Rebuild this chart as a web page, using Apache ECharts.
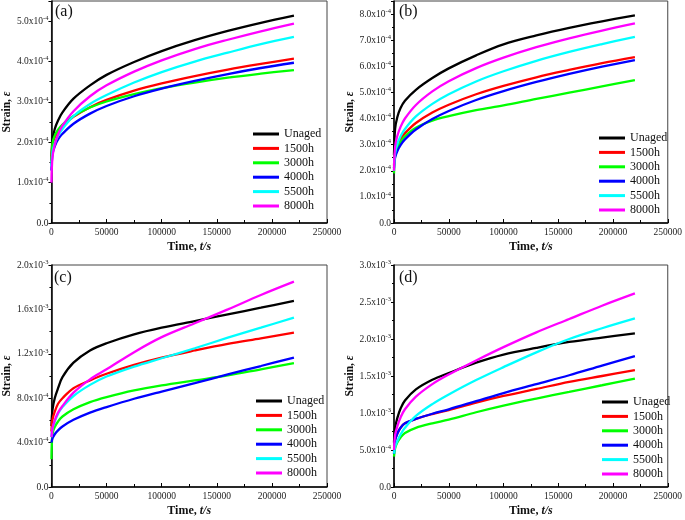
<!DOCTYPE html>
<html><head><meta charset="utf-8">
<script src="https://cdn.jsdelivr.net/npm/echarts@6/dist/echarts.min.js"></script>
<style>html,body{margin:0;padding:0;background:#fff}#c{width:685px;height:520px}</style>
</head><body><div id="c"></div>
<script>
// time points (s)
const T = [0, 1000, 3000, 6000, 10000, 20000, 35000, 50000, 75000, 100000, 130000, 160000, 190000, 220000];
const names = ['Unaged', '1500h', '3000h', '4000h', '5500h', '8000h'];
const colors = ['#000000', '#ff0000', '#00ff00', '#0000ff', '#00ffff', '#ff00ff'];
const xTicks = [0, 50000, 100000, 150000, 200000, 250000];

// strain values in units of 1e-4
// panel (a)
const a_unaged = [1.55, 2.07, 2.33, 2.54, 2.74, 3.08, 3.41, 3.67, 3.99, 4.26, 4.53, 4.76, 4.96, 5.14];
const a_1500   = [1.55, 1.93, 2.11, 2.26, 2.40, 2.63, 2.87, 3.05, 3.28, 3.46, 3.64, 3.80, 3.94, 4.07];
const a_3000   = [1.45, 1.98, 2.17, 2.31, 2.44, 2.65, 2.86, 3.01, 3.19, 3.34, 3.48, 3.60, 3.70, 3.79];
const a_4000   = [1.30, 1.71, 1.90, 2.07, 2.21, 2.46, 2.71, 2.90, 3.14, 3.33, 3.52, 3.69, 3.84, 3.97];
const a_5500   = [1.40, 1.77, 1.97, 2.16, 2.33, 2.65, 2.95, 3.17, 3.48, 3.74, 4.00, 4.22, 4.43, 4.61];
const a_8000   = [1.00, 1.65, 1.94, 2.19, 2.41, 2.77, 3.14, 3.41, 3.75, 4.03, 4.31, 4.54, 4.75, 4.94];
// panel (b)
const b_unaged = [2.6, 3.6, 4.05, 4.4, 4.68, 5.1, 5.55, 5.92, 6.42, 6.84, 7.18, 7.47, 7.72, 7.95];
const b_1500   = [2.2, 2.71, 2.98, 3.22, 3.44, 3.83, 4.23, 4.53, 4.93, 5.25, 5.58, 5.86, 6.12, 6.35];
const b_3000   = [1.9, 2.55, 2.85, 3.1, 3.32, 3.65, 3.92, 4.09, 4.32, 4.5, 4.75, 4.99, 5.23, 5.47];
const b_4000   = [2.1, 2.51, 2.75, 2.98, 3.20, 3.58, 3.98, 4.29, 4.71, 5.05, 5.40, 5.71, 5.99, 6.24];
const b_5500   = [2.0, 2.67, 3.02, 3.32, 3.60, 4.08, 4.56, 4.93, 5.42, 5.81, 6.21, 6.55, 6.85, 7.13];
const b_8000   = [2.0, 2.92, 3.33, 3.68, 4.0, 4.52, 5.04, 5.43, 5.93, 6.33, 6.73, 7.07, 7.37, 7.64];
// panel (c)
const c_unaged = [5.5, 7.0, 8.0, 8.9, 9.9, 11.2, 12.3, 12.95, 13.75, 14.35, 14.95, 15.55, 16.15, 16.76];
const c_1500   = [5.0, 6.1, 6.8, 7.5, 8.0, 8.9, 9.6, 10.2, 11.0, 11.65, 12.3, 12.9, 13.4, 13.91];
const c_3000   = [2.5, 4.8, 5.4, 5.9, 6.35, 7.0, 7.65, 8.1, 8.7, 9.15, 9.6, 10.05, 10.6, 11.15];
const c_4000   = [4.0, 4.4, 4.75, 5.1, 5.45, 6.05, 6.7, 7.2, 7.95, 8.6, 9.35, 10.15, 10.9, 11.66];
const c_5500   = [4.5, 5.3, 5.9, 6.6, 7.2, 8.2, 9.2, 9.95, 10.85, 11.6, 12.5, 13.45, 14.35, 15.26];
const c_8000   = [4.5, 5.3, 6.0, 6.7, 7.3, 8.5, 9.7, 10.6, 12.15, 13.5, 14.75, 16.0, 17.3, 18.5];
// panel (d)
const d_unaged = [6.0, 8.0, 9.3, 10.6, 11.7, 13.2, 14.5, 15.4, 16.8, 17.9, 18.8, 19.6, 20.2, 20.75];
const d_1500   = [4.8, 6.3, 7.2, 8.0, 8.6, 9.2, 9.85, 10.4, 11.4, 12.3, 13.25, 14.2, 15.0, 15.79];
const d_3000   = [4.1, 5.2, 6.0, 6.7, 7.3, 8.0, 8.6, 9.1, 10.1, 11.0, 11.95, 12.85, 13.75, 14.66];
const d_4000   = [4.5, 6.3, 7.2, 8.0, 8.6, 9.2, 9.9, 10.5, 11.6, 12.7, 13.9, 15.1, 16.4, 17.68];
const d_5500   = [4.5, 5.4, 6.2, 7.1, 8.0, 9.6, 11.2, 12.5, 14.45, 16.2, 18.2, 20.0, 21.45, 22.78];
const d_8000   = [5.0, 7.0, 8.2, 9.4, 10.5, 12.2, 13.9, 15.2, 17.1, 18.9, 20.9, 22.7, 24.5, 26.16];

const panelLabels = ['(a)', '(b)', '(c)', '(d)'];
const yMax = [5.5, 8.5, 20, 30];
const yStep = [1, 1, 4, 5];

const panels = [
  [a_unaged, a_1500, a_3000, a_4000, a_5500, a_8000],
  [b_unaged, b_1500, b_3000, b_4000, b_5500, b_8000],
  [c_unaged, c_1500, c_3000, c_4000, c_5500, c_8000],
  [d_unaged, d_1500, d_3000, d_4000, d_5500, d_8000]
];

const FONT = 'Liberation Serif';
const grids = [
  {left: 49, top: 1, width: 278, height: 222},
  {left: 394, top: 1, width: 277, height: 222},
  {left: 50, top: 265, width: 277, height: 222},
  {left: 394, top: 265, width: 277, height: 222}
];
const legendPos = [
  {left: 253, top: 128},
  {left: 599, top: 132},
  {left: 256, top: 395},
  {left: 602, top: 396}
];
const labelPos = [[55, 4], [399, 4], [54, 270], [399, 270]];

function makeYFmt(step) {
  return function (v) {
    const r = v / step;
    if (Math.abs(r - Math.round(r)) > 1e-6) return '';
    if (Math.abs(v) < 1e-9) return '0.0';
    if (v >= 10) return (v / 10).toFixed(1) + 'x10{s|-3}';
    return v.toFixed(1) + 'x10{s|-4}';
  };
}

const option = {
  animation: false,
  backgroundColor: '#fff',
  grid: grids.map(g => Object.assign({show: true, borderColor: '#444', borderWidth: 1, containLabel: false}, g)),
  xAxis: grids.map((g, i) => ({
    type: 'value', gridIndex: i, min: 0, max: 250000, interval: 50000,
    axisLine: {show: true, onZero: false, lineStyle: {color: '#000', width: 1.5}},
    axisTick: {show: true, inside: true, length: 4, lineStyle: {color: '#000'}},
    minorTick: {show: true, splitNumber: 2, length: 3, lineStyle: {color: '#000'}},
    splitLine: {show: false},
    axisLabel: {fontFamily: FONT, fontSize: 9.5, color: '#222', margin: 4,
      formatter: v => xTicks.includes(v) ? String(v) : ''},
    name: 'Time, {i|t/s}', nameLocation: 'middle', nameGap: 18,
    nameTextStyle: {fontFamily: FONT, fontSize: 12, fontWeight: 'bold', color: '#111',
      rich: {i: {fontFamily: FONT, fontSize: 12, fontWeight: 'bold', fontStyle: 'italic', color: '#111'}}}
  })),
  yAxis: grids.map((g, i) => ({
    type: 'value', gridIndex: i, min: 0, max: yMax[i], interval: yStep[i],
    axisLine: {show: true, onZero: false, lineStyle: {color: '#000', width: 1.5}},
    axisTick: {show: true, inside: false, length: 3, lineStyle: {color: '#000'}},
    minorTick: {show: true, splitNumber: 2, length: 2, lineStyle: {color: '#000'}},
    splitLine: {show: false},
    axisLabel: {fontFamily: FONT, fontSize: 9.5, color: '#222', margin: 3, lineHeight: 13,
      formatter: makeYFmt(yStep[i]),
      rich: {s: {fontFamily: FONT, fontSize: 6.5, color: '#222', verticalAlign: 'top', lineHeight: 8}}},
    name: 'Strain, {i|ε}', nameLocation: 'middle', nameGap: 33,
    nameTextStyle: {fontFamily: FONT, fontSize: 11.5, fontWeight: 'bold', color: '#111',
      rich: {i: {fontFamily: FONT, fontSize: 11.5, fontStyle: 'italic', color: '#111'}}}
  })),
  legend: legendPos.map(p => ({
    orient: 'vertical', left: p.left, top: p.top, padding: 0,
    data: names.map(n => ({name: n})),
    icon: 'rect', itemWidth: 26, itemHeight: 3, itemGap: 2.4,
    selectedMode: false,
    textStyle: {fontFamily: FONT, fontSize: 12, color: '#111', lineHeight: 12}
  })),
  graphic: labelPos.map((p, i) => ({
    type: 'text', left: p[0], top: p[1],
    style: {text: panelLabels[i], font: '16px "Liberation Serif"', fill: '#111'}
  })),
  series: []
};

panels.forEach((ser, pi) => {
  ser.forEach((vals, si) => {
    option.series.push({
      type: 'line', name: names[si], xAxisIndex: pi, yAxisIndex: pi,
      data: T.map((t, k) => [t, vals[k]]),
      showSymbol: false, smooth: 0.35,
      lineStyle: {color: colors[si], width: 2.3},
      itemStyle: {color: colors[si]}
    });
  });
});

const chart = echarts.init(document.getElementById('c'), null, {renderer: 'canvas'});
chart.setOption(option);
</script></body></html>
